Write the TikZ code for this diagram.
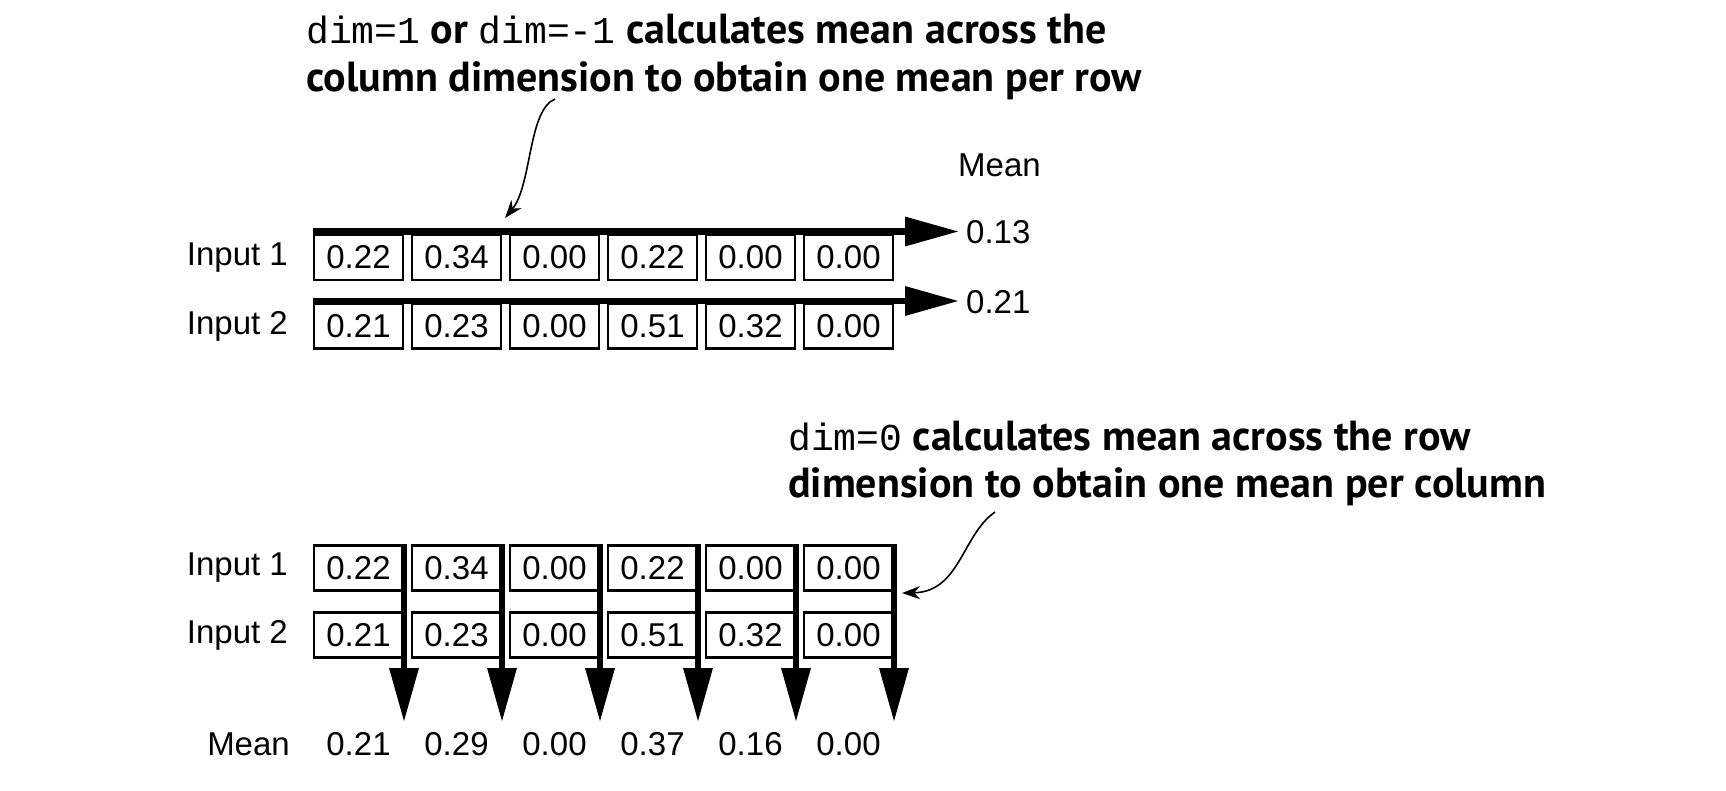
\documentclass[tikz,border=0pt]{standalone}
\usepackage{fontspec}
\setmainfont{Liberation Sans}
\setmonofont{Liberation Mono}
\newfontfamily\annfont{PT Sans}
\usetikzlibrary{arrows.meta}
\begin{document}
\begin{tikzpicture}[x=1pt,y=-1pt,
  cell/.style={draw, line width=2.2pt, minimum width=89pt, minimum height=45pt, inner sep=0pt, font=\fontsize{33}{36}\selectfont},
  lbl/.style={inner sep=0pt, font=\fontsize{33}{36}\selectfont},
  ann/.style={inner sep=0pt, anchor=base west, font=\annfont\bfseries\fontsize{42}{46}\selectfont},
  bigarrow/.style={line width=6.5pt, -{Triangle[length=54pt,width=28pt]}},
  thinarrow/.style={line width=1.6pt, -{Stealth[length=18pt,width=13pt]}},
]
\useasboundingbox (0,0) rectangle (1726,790);
\newcommand\cd[1]{{\ttfamily\mdseries\fontsize{38}{44}\selectfont #1}}

% ---------- upper part (dim=1) ----------
\node[ann] (t1a) at (306,43) {\cd{dim=1} or \cd{dim=-1} calculates mean across the};
\node[ann] (t1b) at (306,91) {column dimension to obtain one mean per row};

\node[lbl, anchor=east] (ui1) at (288,257.5) {Input 1};
\node[lbl, anchor=east] (ui2) at (288,326) {Input 2};
\foreach \v [count=\i] in {0.22,0.34,0.00,0.22,0.00,0.00}
  \node[cell] (u1\i) at ({358.5+98*(\i-1)},257.5) {\v};
\foreach \v [count=\i] in {0.21,0.23,0.00,0.51,0.32,0.00}
  \node[cell] (u2\i) at ({358.5+98*(\i-1)},326) {\v};

\coordinate (ue1) at (959,231.5);
\coordinate (ue2) at (959,301);
\draw[bigarrow] (u11.north west |- ue1) -- (ue1);
\draw[bigarrow] (u21.north west |- ue2) -- (ue2);

\node[lbl, anchor=west] (umean) at (958,165) {Mean};
\node[lbl, anchor=west] (um1) at (966,232) {0.13};
\node[lbl, anchor=west] (um2) at (966,302) {0.21};

\coordinate (a1s) at (555,99);
\coordinate (a1e) at (505,218);
\draw[thinarrow] (a1s) .. controls (528,110) and (532,185) .. (a1e);

% ---------- lower part (dim=0) ----------
\node[ann] (t2a) at (788,450) {\cd{dim=0} calculates mean across the row};
\node[ann] (t2b) at (788,497) {dimension to obtain one mean per column};

\node[lbl, anchor=east] (li1) at (288,568) {Input 1};
\node[lbl, anchor=east] (li2) at (288,635) {Input 2};
\foreach \v [count=\i] in {0.22,0.34,0.00,0.22,0.00,0.00}
  \node[cell] (l1\i) at ({358.5+98*(\i-1)},568) {\v};
\foreach \v [count=\i] in {0.21,0.23,0.00,0.51,0.32,0.00}
  \node[cell] (l2\i) at ({358.5+98*(\i-1)},635) {\v};

\foreach \i in {1,...,6} {
  \coordinate (le\i) at ({404+98*(\i-1)},722);
  \draw[bigarrow] (le\i |- l1\i.north) -- (le\i);
}

\node[lbl, anchor=east] (lmean) at (290,744) {Mean};
\foreach \v [count=\i] in {0.21,0.29,0.00,0.37,0.16,0.00}
  \node[lbl] (lm\i) at ({358.5+98*(\i-1)},744) {\v};

\coordinate (a2s) at (995,512);
\coordinate (a2e) at (902,593);
\draw[thinarrow] (a2s) .. controls (962,535) and (960,592) .. (a2e);
\end{tikzpicture}
\end{document}
